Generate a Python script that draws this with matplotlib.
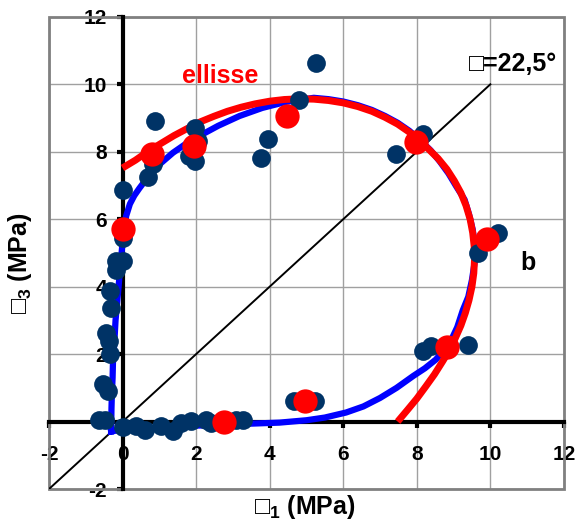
import matplotlib
matplotlib.use('Agg')
import matplotlib.pyplot as plt
from matplotlib.patches import Rectangle

plt.rcParams['font.family'] = ['Liberation Sans', 'DejaVu Sans']
plt.rcParams['font.weight'] = 'bold'
plt.rcParams['axes.unicode_minus'] = False
plt.rcParams['mathtext.fontset'] = 'custom'
plt.rcParams['mathtext.rm'] = 'Liberation Sans:bold'
plt.rcParams['mathtext.it'] = 'Liberation Sans:bold'
plt.rcParams['mathtext.bf'] = 'Liberation Sans:bold'

ticks = [-2, 0, 2, 4, 6, 8, 10, 12]
tick_labels = ['-2', '0', '2', '4', '6', '8', '10', '12']

# measured data points (MPa)
meas_x = [0.0, 0.0, -0.17, 0.01, -0.17, -0.33, -0.31, -0.46, -0.37, -0.33, -0.52, -0.4,
          -0.63, -0.49, 0.0, 0.37, 0.6, 1.05, 1.37, 1.6, 1.87, 2.27, 2.41, 3.09, 3.27,
          4.67, 5.22, 0.87, 0.69, 0.82, 1.96, 2.05, 1.82, 1.96, 3.95, 3.77, 5.26, 4.81,
          7.44, 8.16, 8.07, 10.2, 9.66, 8.16, 8.39, 9.38]
meas_y = [6.88, 5.45, 4.76, 4.76, 4.5, 3.87, 3.37, 2.63, 2.38, 1.99, 1.1, 0.9,
          0.04, 0.04, -0.17, -0.14, -0.26, -0.14, -0.29, -0.04, 0.01, 0.06, -0.04, 0.06, 0.04,
          0.6, 0.6, 8.91, 7.26, 7.63, 8.71, 8.32, 7.87, 7.72, 8.37, 7.82, 10.62, 9.53,
          7.92, 8.52, 8.37, 5.6, 5.0, 2.09, 2.23, 2.28]

# mean points
mean_x = [0.0, 0.8, 1.93, 4.46, 7.99, 9.92, 8.83, 4.95, 2.77]
mean_y = [5.7, 7.92, 8.16, 9.05, 8.3, 5.4, 2.2, 0.62, 0.0]

# fitted curve (blue)
fit_x = [-0.31, -0.3, -0.29, -0.27, -0.26, -0.22, -0.19, -0.13, -0.06, 0.0, 0.04, 0.1,
         0.2, 0.32, 0.46, 0.62, 0.82, 1.05, 1.37, 1.7, 2.09, 2.6, 3.18, 3.8, 4.45, 5.2,
         5.6, 6.0, 6.4, 6.78, 7.14, 7.48, 7.8, 8.1, 8.38, 8.62, 8.86, 9.07, 9.3, 9.42,
         9.52, 9.58, 9.57, 9.5, 9.4, 9.25, 9.1, 8.95, 8.8, 8.52, 8.22, 7.9, 7.45, 7.0,
         6.55, 6.08, 5.5, 5.0, 4.27, 3.0, 2.0, 1.0, 0.0, -0.31]
fit_y = [-0.29, 0.4, 0.8, 1.3, 1.75, 2.4, 3.0, 3.72, 4.6, 5.3, 5.7, 6.1,
         6.45, 6.7, 6.92, 7.15, 7.42, 7.67, 7.97, 8.22, 8.47, 8.77, 9.06, 9.3, 9.48, 9.6,
         9.56, 9.49, 9.38, 9.24, 9.06, 8.86, 8.62, 8.34, 8.04, 7.72, 7.36, 6.98, 6.58, 6.15,
         5.7, 5.2, 4.7, 4.2, 3.7, 3.3, 2.8, 2.45, 2.2, 1.84, 1.58, 1.35, 1.0, 0.7,
         0.45, 0.27, 0.12, 0.04, -0.03, -0.08, -0.12, -0.18, -0.24, -0.29]

# ellipse (red)
ell_x = [7.48, 7.75, 8.0, 8.25, 8.48, 8.7, 8.89, 9.05, 9.2, 9.32, 9.42, 9.5, 9.55, 9.57,
         9.56, 9.52, 9.45, 9.34, 9.2, 9.02, 8.82, 8.58, 8.3, 8.1, 7.8, 7.48, 7.14, 6.78,
         6.4, 6.0, 5.6, 5.2, 4.8, 4.4, 4.0, 3.6, 3.22, 2.85, 2.48, 2.12, 1.78, 1.4, 1.05,
         0.68, 0.35, 0.0]
ell_y = [0.0, 0.35, 0.68, 1.05, 1.4, 1.78, 2.12, 2.48, 2.85, 3.22, 3.6, 4.0, 4.4, 4.8,
         5.2, 5.6, 6.0, 6.4, 6.78, 7.14, 7.48, 7.8, 8.1, 8.3, 8.58, 8.82, 9.02, 9.2,
         9.34, 9.45, 9.52, 9.56, 9.57, 9.55, 9.5, 9.42, 9.32, 9.2, 9.05, 8.89, 8.7, 8.48, 8.25,
         8.0, 7.75, 7.52]

diag = [-2, 10]

fig = plt.figure(figsize=(5.76, 5.27), dpi=100)
ax = fig.add_axes([0.085, 0.072, 0.894, 0.896])

ax.set_xlim(-2, 12)
ax.set_ylim(-2, 12)
ax.grid(True, color='#a0a0a0', lw=1.0, zorder=0)
ax.set_axisbelow(True)

for s in ['top', 'right']:
    ax.spines[s].set_visible(False)
ax.spines['left'].set_position(('data', 0))
ax.spines['bottom'].set_position(('data', 0))
ax.spines['left'].set_linewidth(3)
ax.spines['bottom'].set_linewidth(3)
ax.spines['left'].set_zorder(2)
ax.spines['bottom'].set_zorder(2)
ax.add_patch(Rectangle((0, 0), 1, 1, transform=ax.transAxes, fill=False,
                       edgecolor='#808080', lw=2, clip_on=False, zorder=1))

ax.tick_params(axis='x', direction='out', length=4, width=3, pad=13, labelsize=15)
ax.tick_params(axis='y', direction='out', length=4, width=3, pad=7, labelsize=15)
ax.set_xticks(ticks)
ax.set_yticks(ticks)
ax.set_xticklabels(tick_labels, fontsize=15, fontweight='bold')
ax.set_yticklabels(tick_labels, fontsize=15, fontweight='bold')

ax.plot(diag, diag, color='black', lw=1.4, zorder=3)
ax.plot(fit_x, fit_y, color='#0000ff', lw=4.5, zorder=4, solid_joinstyle='round')
ax.plot(ell_x, ell_y, color='#ff0000', lw=5, zorder=5, solid_joinstyle='round',
        solid_capstyle='butt')
ax.plot(meas_x, meas_y, 'o', color='#003366', ms=13.5, mec='none', zorder=6)
ax.plot(mean_x, mean_y, 'o', color='#ff0000', ms=17.5, mec='none', zorder=7)

ax.text(2.66, 10.24, 'ellisse', color='#ff0000', fontsize=18, fontweight='bold',
        ha='center', va='center', zorder=8)
ax.text(11.03, 4.69, 'b', color='black', fontsize=18, fontweight='bold',
        ha='center', va='center', zorder=8)
ax.text(9.43, 10.6, '\u25a1=22,5°', color='black', fontsize=18, fontweight='bold',
        ha='left', va='center', zorder=8)

fig.text(0.53, 0.038, '\u25a1$_1$ (MPa)', fontsize=18, fontweight='bold',
         ha='center', va='center')
fig.text(0.035, 0.5, '\u25a1$_3$ (MPa)', fontsize=18, fontweight='bold',
         ha='center', va='center', rotation=90)

fig.savefig('out.png', dpi=100)
